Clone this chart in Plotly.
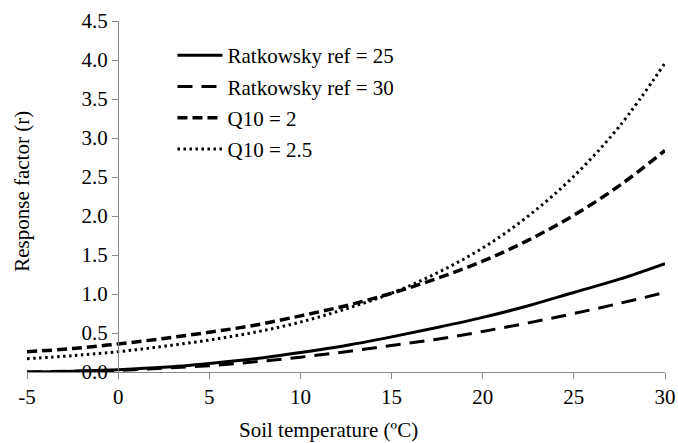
import plotly.graph_objects as go

# Soil temperature (ºC)
temperature = [-5, -2.5, 0, 2.5, 5, 7.5, 10, 12.5, 15, 17.5, 20, 22.5, 25, 27.5, 30]

# Response factor (r) for each model
ratkowsky_25 = [0.00, 0.01, 0.03, 0.06, 0.11, 0.17, 0.25, 0.34, 0.45, 0.57, 0.70, 0.85, 1.02, 1.19, 1.39]
ratkowsky_30 = [0.00, 0.01, 0.02, 0.05, 0.08, 0.13, 0.19, 0.26, 0.34, 0.42, 0.52, 0.63, 0.75, 0.88, 1.02]
q10_2 = [0.26, 0.30, 0.36, 0.43, 0.51, 0.60, 0.72, 0.85, 1.01, 1.20, 1.42, 1.69, 2.01, 2.39, 2.84]
q10_25 = [0.17, 0.21, 0.26, 0.33, 0.41, 0.51, 0.64, 0.81, 1.01, 1.27, 1.59, 2.00, 2.51, 3.15, 3.96]

series_names = ["Ratkowsky ref = 25", "Ratkowsky ref = 30", "Q10 = 2", "Q10 = 2.5"]
x_ticks = [-5, 0, 5, 10, 15, 20, 25, 30]
y_ticks = [0, 0.5, 1.0, 1.5, 2.0, 2.5, 3.0, 3.5, 4.0, 4.5]

FONT = "Liberation Serif"
FONT_SIZE = 21
AXIS_GREY = "#898989"

styles = [
    dict(width=3, dash="solid"),
    dict(width=3, dash="15px,9px"),
    dict(width=3.5, dash="10px,5px"),
    dict(width=3, dash="2.5px,3.5px"),
]

fig = go.Figure()
for name, values, style in zip(series_names, [ratkowsky_25, ratkowsky_30, q10_2, q10_25], styles):
    fig.add_trace(go.Scatter(
        x=temperature, y=values, name=name, mode="lines",
        line=dict(color="black", shape="spline", **style),
        legendgroup=name,
    ))

fig.update_layout(
    width=678, height=443,
    margin=dict(l=27, r=13, t=21, b=71, autoexpand=False),
    paper_bgcolor="white", plot_bgcolor="white",
    font=dict(family=FONT, size=FONT_SIZE, color="black"),
    showlegend=True,
    legend=dict(
        x=0.228, y=0.960, xanchor="left", yanchor="top",
        bgcolor="rgba(0,0,0,0)", font=dict(family=FONT, size=FONT_SIZE),
        itemwidth=45, tracegroupgap=1,
    ),
    xaxis=dict(
        range=[-5, 30], tickvals=x_ticks, ticktext=[str(v) for v in x_ticks],
        showgrid=False, zeroline=False, showline=True, linecolor=AXIS_GREY, linewidth=1.3,
        ticks="outside", ticklen=6, tickcolor=AXIS_GREY, tickwidth=1.3,
        anchor="y", automargin=False, tickfont=dict(family=FONT, size=FONT_SIZE),
    ),
    yaxis=dict(
        range=[0, 4.5], tickvals=y_ticks, ticktext=[f"{v:.1f}" for v in y_ticks],
        showgrid=False, zeroline=False, showline=True, linecolor=AXIS_GREY, linewidth=1.3,
        ticks="outside", ticklen=6, tickcolor=AXIS_GREY, tickwidth=1.3,
        anchor="free", position=5 / 35, automargin=False, tickfont=dict(family=FONT, size=FONT_SIZE),
    ),
    annotations=[
        dict(text="Response factor (r)", textangle=-90, xref="paper", yref="paper",
             x=-0.008, y=0.516, xanchor="center", yanchor="middle", showarrow=False,
             font=dict(family=FONT, size=FONT_SIZE)),
        dict(text="Soil temperature (ºC)", xref="paper", yref="paper",
             x=0.472, y=-0.165, xanchor="center", yanchor="middle", showarrow=False,
             font=dict(family=FONT, size=FONT_SIZE)),
    ],
)

fig.write_html("out.html")
